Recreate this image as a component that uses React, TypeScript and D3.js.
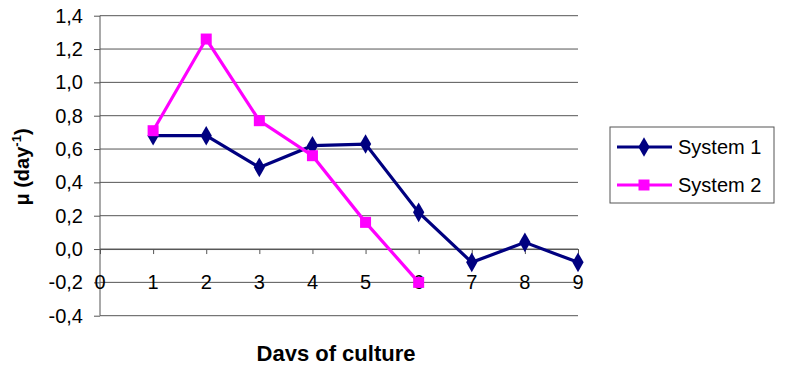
import React, { useRef, useEffect } from "react";
import * as d3 from "d3";

const days = [1, 2, 3, 4, 5, 6, 7, 8, 9];
const system1 = [0.68, 0.68, 0.49, 0.62, 0.63, 0.22, -0.08, 0.04, -0.08];
const system2 = [0.71, 1.26, 0.77, 0.56, 0.16, -0.2];
const yTicks = [-0.4, -0.2, 0, 0.2, 0.4, 0.6, 0.8, 1.0, 1.2, 1.4];
const xTicks = [0, 1, 2, 3, 4, 5, 6, 7, 8, 9];
const seriesNames = ["System 1", "System 2"];

const App: React.FC = () => {
  const svgRef = useRef<SVGSVGElement | null>(null);

  useEffect(() => {
    const svg = d3.select(svgRef.current);
    svg.selectAll("*").remove();

    const font = "'Liberation Sans', Arial, sans-serif";
    const left = 100;
    const right = 578;
    const top = 15.7;
    const bottom = 315.7;

    const x = d3.scaleLinear().domain([0, 9]).range([left, right]);
    const y = d3.scaleLinear().domain([-0.4, 1.4]).range([bottom, top]);

    // grid
    svg
      .append("g")
      .selectAll("line")
      .data(yTicks)
      .enter()
      .append("line")
      .attr("x1", left)
      .attr("x2", right)
      .attr("y1", (d) => y(d))
      .attr("y2", (d) => y(d))
      .attr("stroke", "#555")
      .attr("stroke-width", 1);

    // y axis
    const yAxis = svg
      .append("g")
      .attr("transform", `translate(${left},0)`)
      .call(
        d3
          .axisLeft(y)
          .tickValues(yTicks)
          .tickSize(6)
          .tickPadding(11)
          .tickFormat((d) => d3.format(".1f")(d as number).replace(".", ",").replace("−", "-"))
      );
    yAxis.select(".domain").attr("stroke", "#555").attr("d", `M-0,${top}V${bottom}`);
    yAxis.selectAll(".tick line").attr("stroke", "#555");
    yAxis
      .selectAll("text")
      .attr("font-family", font)
      .attr("font-size", 20)
      .attr("fill", "#000");

    // x axis at zero
    const xAxis = svg
      .append("g")
      .attr("transform", `translate(0,${y(0)})`)
      .call(d3.axisBottom(x).tickValues(xTicks).tickSize(5).tickFormat(() => ""));
    xAxis.select(".domain").attr("stroke", "#555");
    xAxis.selectAll(".tick line").attr("stroke", "#555");

    svg
      .append("g")
      .selectAll("text")
      .data(xTicks)
      .enter()
      .append("text")
      .attr("x", (d) => x(d))
      .attr("y", y(-0.2) + 7)
      .attr("text-anchor", "middle")
      .attr("font-family", font)
      .attr("font-size", 20)
      .attr("fill", "#000")
      .text((d) => String(d));

    const colors = ["#000080", "#FF00FF"];
    const symSizes = [110, 121];
    const data = [system1, system2];
    const line = d3
      .line<number>()
      .x((_, i) => x(days[i]))
      .y((d) => y(d));

    data.forEach((vals, si) => {
      svg
        .append("path")
        .datum(vals)
        .attr("fill", "none")
        .attr("stroke", colors[si])
        .attr("stroke-width", 3.2)
        .attr("d", line);
      const sym = si === 0 ? d3.symbolDiamond : d3.symbolSquare;
      svg
        .append("g")
        .selectAll("path")
        .data(vals)
        .enter()
        .append("path")
        .attr("transform", (d, i) => `translate(${x(days[i])},${y(d)})`)
        .attr("d", d3.symbol().type(sym).size(symSizes[si])() as string)
        .attr("fill", colors[si]);
    });

    // axis titles
    svg
      .append("text")
      .attr("x", 336)
      .attr("y", 361)
      .attr("text-anchor", "middle")
      .attr("font-family", font)
      .attr("font-size", 22)
      .attr("font-weight", "bold")
      .text("Days of culture");

    const yt = svg
      .append("text")
      .attr("transform", "translate(29,167) rotate(-90)")
      .attr("text-anchor", "middle")
      .attr("font-family", font)
      .attr("font-size", 20)
      .attr("font-weight", "bold");
    yt.append("tspan").text("μ (day");
    yt.append("tspan").attr("font-size", 13).attr("dy", -8).text("-1");
    yt.append("tspan").attr("dy", 8).text(")");

    // legend
    const lg = svg.append("g");
    lg.append("rect")
      .attr("x", 610)
      .attr("y", 127)
      .attr("width", 164)
      .attr("height", 76)
      .attr("fill", "#fff")
      .attr("stroke", "#555")
      .attr("stroke-width", 1);
    seriesNames.forEach((name, i) => {
      const ly = 147 + i * 38;
      lg.append("line")
        .attr("x1", 617)
        .attr("x2", 672)
        .attr("y1", ly)
        .attr("y2", ly)
        .attr("stroke", colors[i])
        .attr("stroke-width", 3.2);
      lg.append("path")
        .attr("transform", `translate(644,${ly})`)
        .attr("d", d3.symbol().type(i === 0 ? d3.symbolDiamond : d3.symbolSquare).size(symSizes[i])() as string)
        .attr("fill", colors[i]);
      lg.append("text")
        .attr("x", 678)
        .attr("y", ly + 7)
        .attr("font-family", font)
        .attr("font-size", 20)
        .text(name);
    });
  }, []);

  return <svg ref={svgRef} width={795} height={369} style={{ display: "block", margin: "-8px" }} />;
};

export default App;
